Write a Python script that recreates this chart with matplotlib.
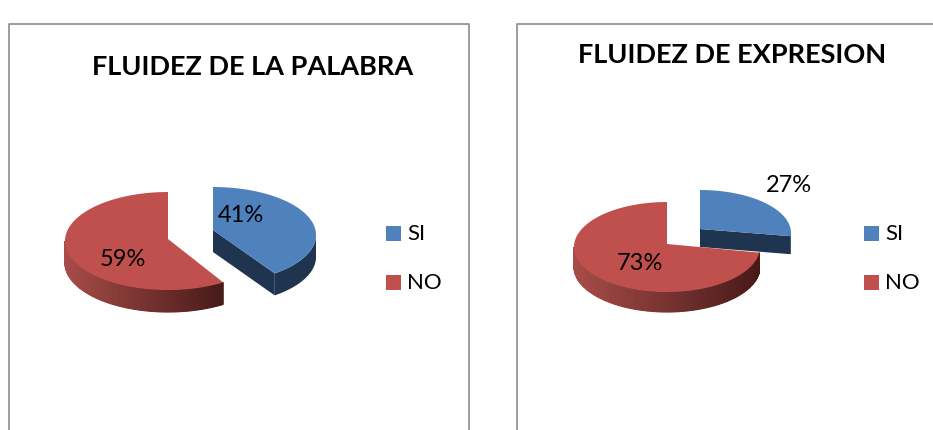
import matplotlib
matplotlib.use('Agg')
import matplotlib.pyplot as plt
import numpy as np
from matplotlib.colors import to_rgb
from matplotlib.patches import Rectangle

plt.rcParams['font.family'] = ['Lato', 'DejaVu Sans']

labels = ['SI', 'NO']
palabra_values = [41, 59]
expresion_values = [27, 73]
palabra_title = 'FLUIDEZ DE LA PALABRA'
expresion_title = 'FLUIDEZ DE EXPRESION'

BLUE = '#4F81BD'
BLUE_DARK = '#1F344F'
RED = '#C0504D'
RED_LEFT = '#A84C49'
RED_RIGHT = '#471A18'
FRAME = '#8C8C8C'


def arc(cx, cy, rx, ry, a0, a1, n=120):
    t = np.radians(np.linspace(a0, a1, n))
    return cx + rx * np.cos(t), cy - ry * np.sin(t)


def draw_blue(ax, value, cx, cy, rx, ry, tip_y, depth):
    # clockwise from twelve o'clock, the tilt squeezes the sweep a little
    a0 = 90
    a1 = 90 - value * 3.6 * 0.97
    x, y = arc(cx, cy, rx, ry, a0, a1)
    # cut face from the tip to the end of the arc
    ax.fill([cx, x[-1], x[-1], cx], [tip_y, y[-1], y[-1] + depth, tip_y + depth],
            color=BLUE_DARK, lw=0, zorder=2)
    # outer wall, only the part facing the viewer
    wx, wy = arc(cx, cy, rx, ry, 0, a1)
    ax.fill(np.r_[wx, wx[::-1]], np.r_[wy, wy[::-1] + depth],
            color=BLUE_DARK, lw=0, zorder=2)
    ax.fill(np.r_[cx, x], np.r_[tip_y, y], color=BLUE, lw=0, zorder=3)


def draw_red(ax, value, cx, cy, rx, ry, tip_y, depth):
    # counter clockwise from twelve o'clock
    a0 = 90
    a1 = 90 + value * 3.6
    # outer wall in thin strips for the shading
    edges = np.linspace(180, a1, 90)
    c0 = np.array(to_rgb(RED_LEFT))
    c1 = np.array(to_rgb(RED_RIGHT))
    end_x = arc(cx, cy, rx, ry, a1, a1, 1)[0][0]
    for i in range(len(edges) - 1):
        sx, sy = arc(cx, cy, rx, ry, edges[i], edges[i + 1], 4)
        f = (sx.mean() - (cx - rx)) / (end_x - (cx - rx))
        col = c0 + (c1 - c0) * f
        ax.fill(np.r_[sx, sx[::-1]], np.r_[sy, sy[::-1] + depth],
                facecolor=col, edgecolor=col, lw=0.8, zorder=4)
    x, y = arc(cx, cy, rx, ry, a0, a1)
    ax.fill(np.r_[cx, x], np.r_[tip_y, y], color=RED, lw=0, zorder=5)


fig = plt.figure(figsize=(9.33, 4.3), dpi=100)
ax = fig.add_axes([0, 0, 1, 1])
ax.set_xlim(0, 933)
ax.set_ylim(430, 0)
ax.axis('off')

# chart frames, both run off the image
ax.plot([9, 9, 469, 469], [430, 24, 24, 430], color=FRAME, lw=1.2, zorder=1)
ax.plot([517, 517, 933], [430, 24, 24], color=FRAME, lw=1.2, zorder=1)

# left chart
draw_blue(ax, palabra_values[0], 213, 235, 103, 48, 230, 22)
draw_red(ax, palabra_values[1], 168, 241, 103, 49, 239, 22)
ax.text(253, 67, palabra_title, fontsize=19.5, fontweight='bold', ha='center', va='center', color='black')
ax.text(241, 215, f'{palabra_values[0]}%', fontsize=17, ha='center', va='center', zorder=6)
ax.text(123, 259, f'{palabra_values[1]}%', fontsize=17, ha='center', va='center', zorder=6)

# right chart
draw_blue(ax, expresion_values[0], 700, 233, 91, 43, 229, 18)
draw_red(ax, expresion_values[1], 667, 247, 93, 45, 244, 20)
ax.text(732, 55, expresion_title, fontsize=19.5, fontweight='bold', ha='center', va='center', color='black')
ax.text(789, 185, f'{expresion_values[0]}%', fontsize=17, ha='center', va='center', zorder=6)
ax.text(640, 263, f'{expresion_values[1]}%', fontsize=17, ha='center', va='center', zorder=6)

# legends
for sq_x in [386, 864]:
    for lab, col, sq_y in zip(labels, [BLUE, RED], [226, 275]):
        ax.add_patch(Rectangle((sq_x, sq_y), 15, 15, color=col, lw=0))
        ax.text(sq_x + 21, sq_y + 8, lab, fontsize=16, ha='left', va='center')

fig.savefig('out.png', dpi=100, facecolor='white')
